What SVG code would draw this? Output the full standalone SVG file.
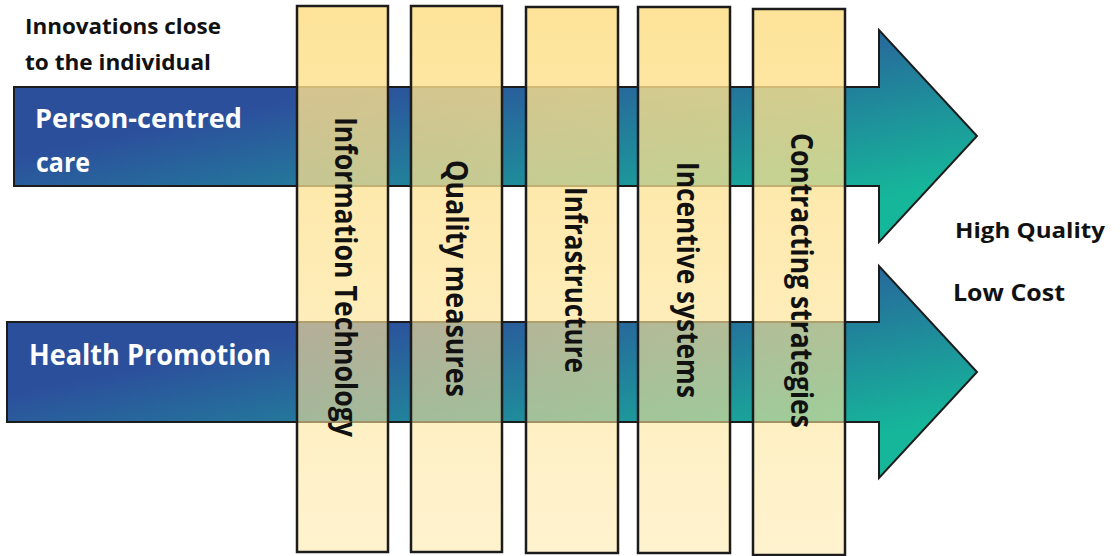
<svg xmlns="http://www.w3.org/2000/svg" width="1120" height="556" viewBox="0 0 1120 556">
<defs>
<linearGradient id="gA1" gradientUnits="userSpaceOnUse" x1="400" y1="76.4" x2="444.5" y2="289.4">
<stop offset="0" stop-color="#2c4f9c"/>
<stop offset="1" stop-color="#16b69a"/>
</linearGradient>
<linearGradient id="gA2" gradientUnits="userSpaceOnUse" x1="400" y1="312.4" x2="444.5" y2="525.4">
<stop offset="0" stop-color="#2c4f9c"/>
<stop offset="1" stop-color="#16b69a"/>
</linearGradient>
<linearGradient id="gCol" x1="0" y1="0" x2="0" y2="1">
<stop offset="0" stop-color="#fddf88" stop-opacity="0.86"/>
<stop offset="1" stop-color="#ffe79f" stop-opacity="0.5"/>
</linearGradient>
</defs>
<style>
.t{font-family:"Open Sans","Liberation Sans",sans-serif;font-weight:700}
.dark{fill:#111}
.white{fill:#ffffff}
.arrow{stroke:#1c1c1c;stroke-width:2;stroke-linejoin:miter}
.col{fill:url(#gCol);stroke:#1c1c1c;stroke-width:2.5}
.clabel{font-size:30px}
</style>
<rect width="1120" height="556" fill="#ffffff"/>

<g id="heading">
<text class="t dark" x="25" y="34" font-size="22" textLength="196" lengthAdjust="spacingAndGlyphs">Innovations close</text>
<text class="t dark" x="25" y="70" font-size="22" textLength="186" lengthAdjust="spacingAndGlyphs">to the individual</text>
</g>

<g id="arrow-person-centred-care">
<path class="arrow" fill="url(#gA1)" d="M14,87 H879 V30 L977,136 L879,242 V186 H14 Z"/>
<text class="t white" x="35" y="128" font-size="26" textLength="207" lengthAdjust="spacingAndGlyphs">Person-centred</text>
<text class="t white" x="36" y="172" font-size="26" textLength="54" lengthAdjust="spacingAndGlyphs">care</text>
</g>

<g id="arrow-health-promotion">
<path class="arrow" fill="url(#gA2)" d="M7,322 H879 V266 L977,372 L879,478 V422 H7 Z"/>
<text class="t white" x="29" y="365" font-size="28" textLength="242" lengthAdjust="spacingAndGlyphs">Health Promotion</text>
</g>

<g id="col-information-technology">
<rect class="col" x="297" y="6" width="91" height="546"/>
<text class="t dark clabel" transform="translate(335,117) rotate(90)" textLength="320" lengthAdjust="spacingAndGlyphs">Information Technology</text>
</g>
<g id="col-quality-measures">
<rect class="col" x="411" y="6" width="91" height="546"/>
<text class="t dark clabel" transform="translate(446,160) rotate(90)" textLength="237" lengthAdjust="spacingAndGlyphs">Quality measures</text>
</g>
<g id="col-infrastructure">
<rect class="col" x="526" y="7" width="92" height="546"/>
<text class="t dark clabel" transform="translate(565,187) rotate(90)" textLength="186" lengthAdjust="spacingAndGlyphs">Infrastructure</text>
</g>
<g id="col-incentive-systems">
<rect class="col" x="638" y="7" width="92" height="546"/>
<text class="t dark clabel" transform="translate(677,162) rotate(90)" textLength="236" lengthAdjust="spacingAndGlyphs">Incentive systems</text>
</g>
<g id="col-contracting-strategies">
<rect class="col" x="753" y="9" width="92" height="546"/>
<text class="t dark clabel" transform="translate(791,133) rotate(90)" textLength="295" lengthAdjust="spacingAndGlyphs">Contracting strategies</text>
</g>

<g id="outcomes">
<text class="t dark" x="955" y="238" font-size="22" textLength="150" lengthAdjust="spacingAndGlyphs">High Quality</text>
<text class="t dark" x="953" y="301" font-size="23" textLength="112" lengthAdjust="spacingAndGlyphs">Low Cost</text>
</g>
</svg>
